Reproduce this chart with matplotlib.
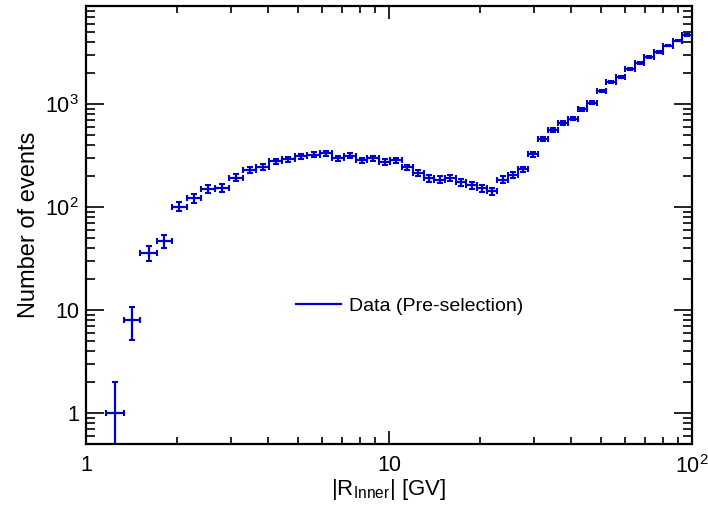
import numpy as np
import matplotlib
matplotlib.use("Agg")
import matplotlib.pyplot as plt
from matplotlib.ticker import FixedLocator, NullFormatter, FuncFormatter, LogLocator
from matplotlib.lines import Line2D

plt.rcParams['font.family'] = ['Liberation Sans', 'DejaVu Sans']
plt.rcParams['mathtext.fontset'] = 'custom'
plt.rcParams['mathtext.rm'] = 'Liberation Sans'
plt.rcParams['mathtext.it'] = 'Liberation Sans:italic'

# Rigidity bin edges [GV]
bin_edges = [1.16, 1.33, 1.51, 1.71, 1.92, 2.15, 2.4, 2.67, 2.97, 3.29, 3.64,
             4.02, 4.43, 4.88, 5.37, 5.9, 6.47, 7.09, 7.76, 8.48, 9.26, 10.1,
             11.0, 12.0, 13.0, 14.1, 15.3, 16.6, 18.0, 19.5, 21.1, 22.8, 24.7,
             26.7, 28.8, 31.1, 33.5, 36.1, 38.9, 41.9, 45.1, 48.5, 52.2, 56.1,
             60.3, 64.8, 69.7, 74.9, 80.5, 86.5, 93.0, 100.0]

# Event counts per bin
counts = [1, 8, 36, 47, 101, 122, 151, 154, 194, 231, 245, 278, 293, 311,
          324, 333, 298, 316, 285, 300, 274, 285, 243, 216, 191, 185, 193,
          175, 163, 153, 142, 185, 205, 233, 328, 459, 567, 656, 724, 892,
          1036, 1344, 1633, 1840, 2202, 2518, 2858, 3198, 3716, 4157, 4710]

legend_label = "Data (Pre-selection)"
x_title = r"$|\mathrm{R}_{\mathrm{Inner}}|$ [GV]"
y_title = "Number of events"

edges = np.array(bin_edges)
n = np.array(counts, dtype=float)
xc = 0.5 * (edges[:-1] + edges[1:])
xerr = 0.5 * (edges[1:] - edges[:-1])
err = np.sqrt(n)
err_lo = np.minimum(err, n * 0.999999)
err_hi = err

color = '#0000cc'

fig = plt.figure(figsize=(7.08, 5.11), dpi=100)
ax = fig.add_axes([86/708, 67/511, 606/708, 438/511])

ax.errorbar(xc, n, xerr=xerr, yerr=[err_lo, err_hi], fmt='none',
            ecolor=color, elinewidth=1.6, capsize=2.2, capthick=1.5)

ax.set_xscale('log')
ax.set_yscale('log')
ax.set_xlim(1, 100)
ax.set_ylim(0.5, 9000)

def fmt(v, pos):
    if v < 0.99:
        return ''
    e = int(round(np.log10(v)))
    if e == 0:
        return '1'
    if e == 1:
        return '10'
    return r'$10^{%d}$' % e

ax.xaxis.set_major_locator(FixedLocator([1, 10, 100]))
ax.yaxis.set_major_locator(FixedLocator([1, 10, 100, 1000]))
ax.xaxis.set_major_formatter(FuncFormatter(fmt))
ax.yaxis.set_major_formatter(FuncFormatter(fmt))
ax.xaxis.set_minor_locator(LogLocator(base=10, subs=np.arange(2, 10), numticks=20))
ax.yaxis.set_minor_locator(LogLocator(base=10, subs=np.arange(2, 10), numticks=20))
ax.xaxis.set_minor_formatter(NullFormatter())
ax.yaxis.set_minor_formatter(NullFormatter())

ax.tick_params(axis='both', which='both', direction='in', top=True, right=True,
               width=1.2, colors='black')
ax.tick_params(axis='x', which='major', length=9.5, pad=8, labelsize=15.5)
ax.tick_params(axis='x', which='minor', length=5)
ax.tick_params(axis='y', which='major', length=13, pad=5, labelsize=15.5)
ax.tick_params(axis='y', which='minor', length=6.5)
for s in ax.spines.values():
    s.set_linewidth(1.6)

ax.set_xlabel(x_title, fontsize=16, labelpad=-1)
ax.set_ylabel(y_title, fontsize=17, labelpad=4)

handle = Line2D([], [], color=color, lw=1.6)
ax.legend([handle], [legend_label], loc='center left',
          bbox_to_anchor=(0.3465, 0.315), frameon=False, borderpad=0,
          borderaxespad=0, handlelength=2.3, handletextpad=0.45, fontsize=14)

fig.savefig('out.png', dpi=100)
